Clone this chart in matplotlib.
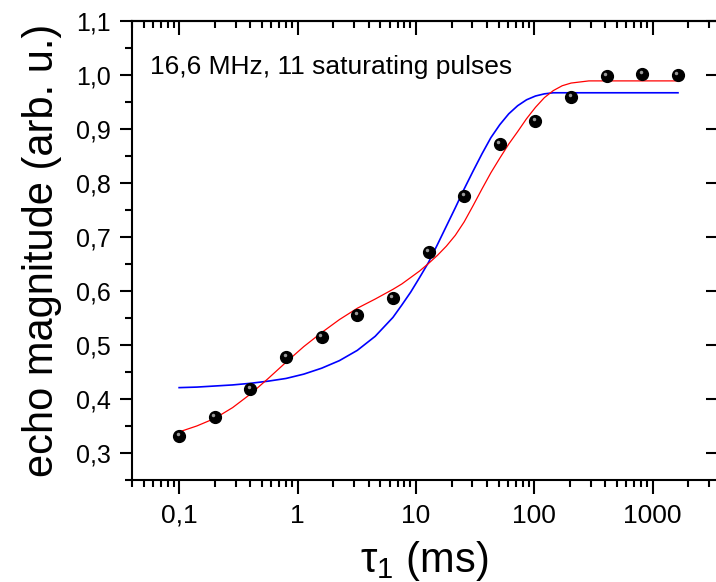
#!/usr/bin/env python3
import matplotlib
matplotlib.use('Agg')
from matplotlib import pyplot as plt
from matplotlib import transforms
from matplotlib.ticker import FixedLocator, LogLocator, NullFormatter, MultipleLocator

plt.rcParams['font.family'] = ['Liberation Sans', 'DejaVu Sans']
plt.rcParams['mathtext.fontset'] = 'custom'
plt.rcParams['mathtext.rm'] = 'Liberation Sans'
plt.rcParams['mathtext.it'] = 'Liberation Sans'

# measured points
tau = [0.1, 0.2, 0.4, 0.8, 1.6, 3.2, 6.4, 12.8, 25.6, 51.2, 102.4, 204.8, 409.6, 819.2, 1638.4]
echo = [0.332, 0.366, 0.418, 0.478, 0.515, 0.555, 0.587, 0.673, 0.776, 0.873,
        0.915, 0.959, 0.998, 1.001, 1.000]

# fit curves
fit_t = [0.1, 0.141, 0.2, 0.283, 0.4, 0.566, 0.8, 1.13, 1.6, 2.26, 3.2, 4.53,
         6.4, 7.61, 9.05, 10.76, 12.8, 15.22, 18.1, 21.53, 25.6, 30.44, 36.2, 43.05,
         51.2, 60.89, 72.4, 86.1, 102.4, 121.8, 144.8, 172.2, 204.8, 289.6, 409.6,
         579.2, 819.2, 1158.5, 1638.4]
fit_red = [0.339, 0.350, 0.364, 0.384, 0.409, 0.438, 0.468, 0.497, 0.523, 0.547, 0.568, 0.585,
           0.603, 0.613, 0.625, 0.637, 0.651, 0.666, 0.683, 0.703, 0.728, 0.758, 0.789, 0.819,
           0.846, 0.872, 0.895, 0.919, 0.940, 0.958, 0.971, 0.980, 0.985, 0.989, 0.989,
           0.989, 0.989, 0.989, 0.989]
fit_blue = [0.421, 0.422, 0.424, 0.426, 0.429, 0.433, 0.438, 0.446, 0.457, 0.471, 0.490, 0.516,
            0.551, 0.574, 0.598, 0.625, 0.653, 0.686, 0.720, 0.754, 0.789, 0.822, 0.854, 0.884,
            0.908, 0.928, 0.943, 0.954, 0.961, 0.965, 0.967, 0.967, 0.967, 0.967, 0.967,
            0.967, 0.967, 0.967, 0.967]

x_ticks = [0.1, 1, 10, 100, 1000]
x_labels = ['0,1', '1', '10', '100', '1000']
y_ticks = [0.3, 0.4, 0.5, 0.6, 0.7, 0.8, 0.9, 1.0, 1.1]
y_labels = ['0,3', '0,4', '0,5', '0,6', '0,7', '0,8', '0,9', '1,0', '1,1']

fig = plt.figure(figsize=(7.16, 5.82), dpi=100)
ax = fig.add_axes([0.1844, 0.1753, 0.8170, 0.7887])

ax.plot(fit_t, fit_blue, color='#0000ff', lw=1.2, zorder=2)
ax.plot(fit_t, fit_red, color='#ff0000', lw=0.9, zorder=2)
ax.plot(tau, echo, 'o', color='black', ms=8.5, zorder=3)
# little shine on the balls
shine = transforms.offset_copy(ax.transData, fig=fig, x=-1.5, y=2.0, units='dots')
ax.plot(tau, echo, 'o', color='#9a9a9a', ms=2.5, mew=0, transform=shine, zorder=4)

ax.set_xscale('log')
ax.set_xlim(0.04, 3500)
ax.set_ylim(0.25, 1.1)

ax.xaxis.set_major_locator(FixedLocator(x_ticks))
ax.set_xticklabels(x_labels)
ax.xaxis.set_minor_locator(LogLocator(base=10, subs=range(2, 10), numticks=20))
ax.xaxis.set_minor_formatter(NullFormatter())
ax.set_yticks(y_ticks)
ax.set_yticklabels(y_labels)
ax.yaxis.set_minor_locator(MultipleLocator(0.05))

ax.tick_params(axis='x', which='major', direction='out', length=10, width=1.5, pad=7, labelsize=19)
ax.tick_params(axis='x', which='minor', direction='out', length=5, width=1.5)
ax.tick_params(axis='y', which='major', direction='out', length=9, width=1.5, pad=6, labelsize=18)
ax.tick_params(axis='y', which='minor', direction='out', length=5, width=1.5)
for s in ax.spines.values():
    s.set_linewidth(1.5)

# inward ticks on top and right
top = ax.secondary_xaxis('top')
top.xaxis.set_major_locator(FixedLocator(x_ticks))
top.xaxis.set_minor_locator(LogLocator(base=10, subs=range(2, 10), numticks=20))
top.xaxis.set_major_formatter(NullFormatter())
top.xaxis.set_minor_formatter(NullFormatter())
top.tick_params(which='major', direction='in', length=10, width=1.5)
top.tick_params(which='minor', direction='in', length=5, width=1.5)
top.spines['top'].set_linewidth(1.5)

right = ax.secondary_yaxis('right')
right.set_yticks(y_ticks)
right.yaxis.set_major_formatter(NullFormatter())
right.tick_params(which='major', direction='in', length=8, width=1.5)
right.spines['right'].set_linewidth(1.5)

ax.set_xlabel(r'τ$_1$ (ms)', fontsize=30, labelpad=8)
ax.set_ylabel('echo magnitude (arb. u.)', fontsize=30, labelpad=10)

ax.text(0.031, 0.90, '16,6 MHz, 11 saturating pulses', transform=ax.transAxes,
        fontsize=19, va='center', ha='left')

fig.savefig('out.png', dpi=100)
